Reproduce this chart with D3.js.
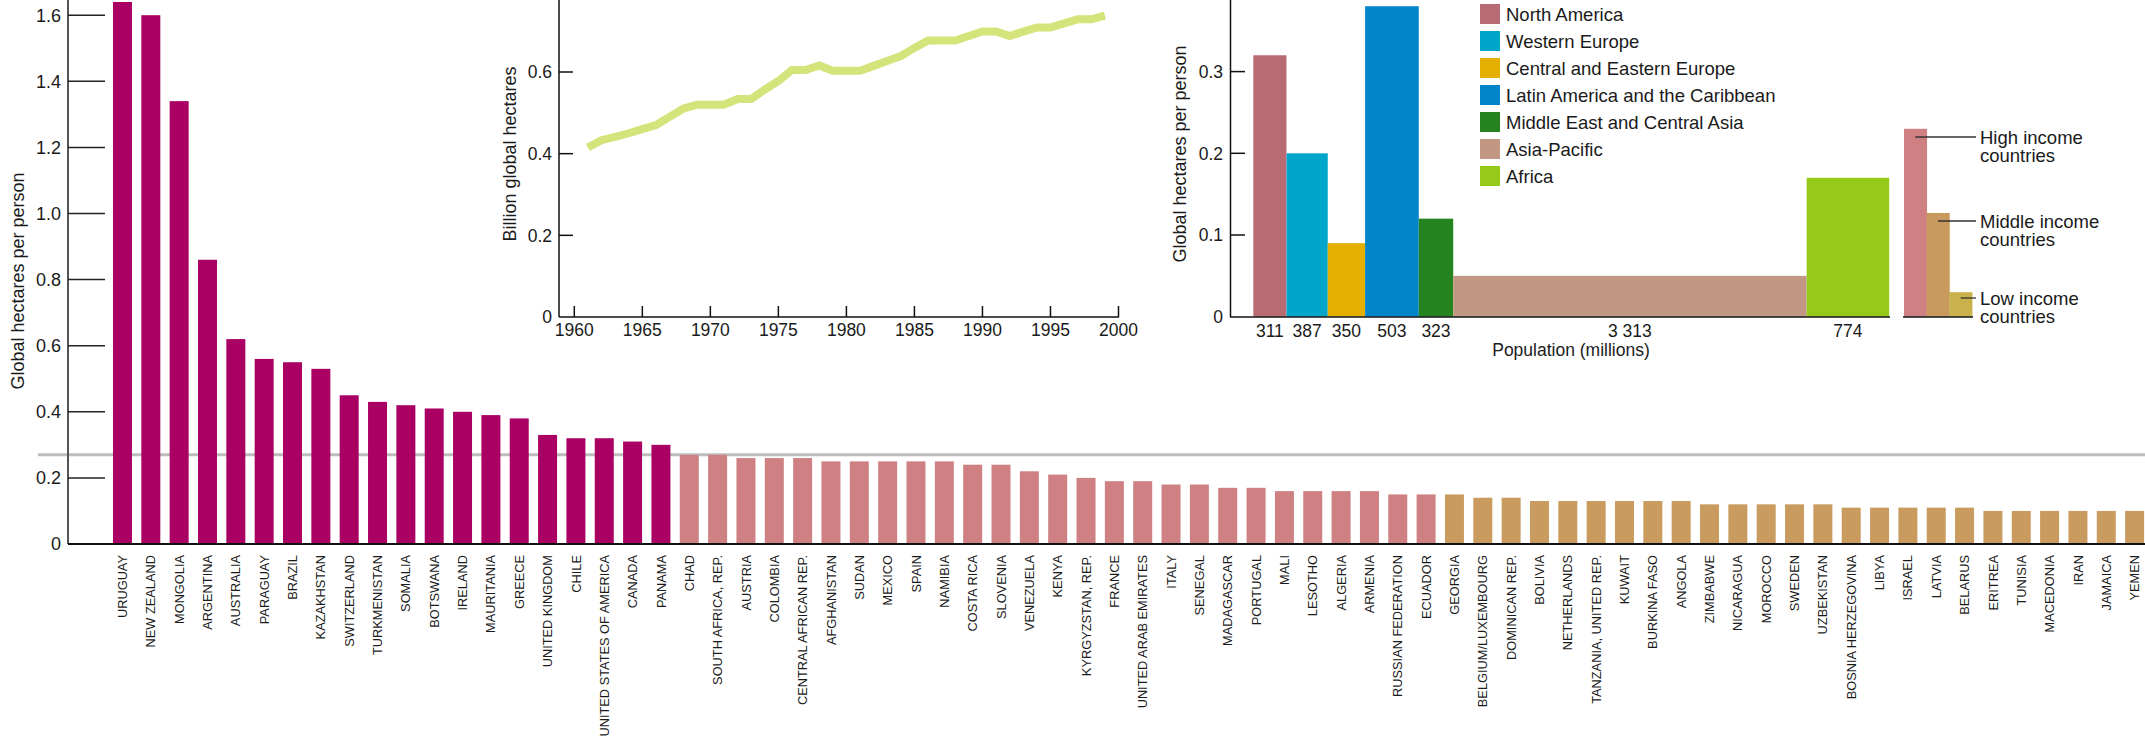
<!DOCTYPE html>
<html><head><meta charset="utf-8">
<script src="https://cdn.jsdelivr.net/npm/d3@7"></script>
<style>
body{margin:0;background:#fff;}
svg{display:block;font-family:"Liberation Sans",Arial,Helvetica,sans-serif;}
</style></head>
<body>
<svg id="c" width="2145" height="738"></svg>
<script>
// ---------- main chart data ----------
const countries = ["URUGUAY","NEW ZEALAND","MONGOLIA","ARGENTINA","AUSTRALIA","PARAGUAY","BRAZIL","KAZAKHSTAN","SWITZERLAND","TURKMENISTAN","SOMALIA","BOTSWANA","IRELAND","MAURITANIA","GREECE","UNITED KINGDOM","CHILE","UNITED STATES OF AMERICA","CANADA","PANAMA","CHAD","SOUTH AFRICA, REP.","AUSTRIA","COLOMBIA","CENTRAL AFRICAN REP.","AFGHANISTAN","SUDAN","MEXICO","SPAIN","NAMIBIA","COSTA RICA","SLOVENIA","VENEZUELA","KENYA","KYRGYZSTAN, REP.","FRANCE","UNITED ARAB EMIRATES","ITALY","SENEGAL","MADAGASCAR","PORTUGAL","MALI","LESOTHO","ALGERIA","ARMENIA","RUSSIAN FEDERATION","ECUADOR","GEORGIA","BELGIUM/LUXEMBOURG","DOMINICAN REP.","BOLIVIA","NETHERLANDS","TANZANIA, UNITED REP.","KUWAIT","BURKINA FASO","ANGOLA","ZIMBABWE","NICARAGUA","MOROCCO","SWEDEN","UZBEKISTAN","BOSNIA HERZEGOVINA","LIBYA","ISRAEL","LATVIA","BELARUS","ERITREA","TUNISIA","MACEDONIA","IRAN","JAMAICA","YEMEN"];
const values = [1.64,1.60,1.34,0.86,0.62,0.56,0.55,0.53,0.45,0.43,0.42,0.41,0.40,0.39,0.38,0.33,0.32,0.32,0.31,0.30,0.27,0.27,0.26,0.26,0.26,0.25,0.25,0.25,0.25,0.25,0.24,0.24,0.22,0.21,0.20,0.19,0.19,0.18,0.18,0.17,0.17,0.16,0.16,0.16,0.16,0.15,0.15,0.15,0.14,0.14,0.13,0.13,0.13,0.13,0.13,0.13,0.12,0.12,0.12,0.12,0.12,0.11,0.11,0.11,0.11,0.11,0.10,0.10,0.10,0.10,0.10,0.10];
const tiers = [1,1,1,1,1,1,1,1,1,1,1,1,1,1,1,1,1,1,1,1,2,2,2,2,2,2,2,2,2,2,2,2,2,2,2,2,2,2,2,2,2,2,2,2,2,2,2,3,3,3,3,3,3,3,3,3,3,3,3,3,3,3,3,3,3,3,3,3,3,3,3,3];
const mainTicks = [0,0.2,0.4,0.6,0.8,1.0,1.2,1.4,1.6];
const mainTickLabels = ["0","0.2","0.4","0.6","0.8","1.0","1.2","1.4","1.6"];
const referenceValue = 0.27;

// ---------- inset line chart data ----------
const years = [1961,1962,1963,1964,1965,1966,1967,1968,1969,1970,1971,1972,1973,1974,1975,1976,1977,1978,1979,1980,1981,1982,1983,1984,1985,1986,1987,1988,1989,1990,1991,1992,1993,1994,1995,1996,1997,1998,1999];
const billionGha = [0.415,0.433,0.441,0.450,0.460,0.470,0.490,0.510,0.520,0.520,0.520,0.534,0.534,0.557,0.578,0.605,0.605,0.616,0.603,0.603,0.603,0.615,0.627,0.639,0.659,0.677,0.677,0.677,0.688,0.699,0.699,0.688,0.699,0.709,0.709,0.719,0.729,0.729,0.738];
const lineXTicks = [1960,1965,1970,1975,1980,1985,1990,1995,2000];
const lineYTicks = [0,0.2,0.4,0.6];
const lineYTickLabels = ["0","0.2","0.4","0.6"];

// ---------- inset region chart data ----------
const regions = ["North America","Western Europe","Central and Eastern Europe","Latin America and the Caribbean","Middle East and Central Asia","Asia-Pacific","Africa"];
const regionPop = [311,387,350,503,323,3313,774];
const regionPopLabels = ["311","387","350","503","323","3 313","774"];
const regionValues = [0.32,0.20,0.09,0.38,0.12,0.05,0.17];
const regionColors = ["#B96B73","#00A6CA","#E4AF00","#0085C9","#268420","#C29884","#96CA1A"];
const regionYTicks = [0,0.1,0.2,0.3];
const regionYTickLabels = ["0","0.1","0.2","0.3"];

const incomeGroups = ["High income","Middle income","Low income"];
const incomeValues = [0.23,0.127,0.03];
const incomeColors = ["#CF8083","#C89A5E","#C9B24C"];

const tierColors = {1:"#AB0063",2:"#CE8083",3:"#C99B5E"};

const svg = d3.select("#c");
const txt = "#1a1a1a";

// ================= MAIN CHART =================
const x = d3.scaleBand().domain(countries).range([108.3, 108.3 + 72*28.34]).paddingInner(0.33).paddingOuter(0.165);
const y = d3.scaleLinear().domain([0,1.6]).range([544, 15.2]);

// reference line (behind bars)
svg.append("line").attr("x1",38).attr("x2",2145)
  .attr("y1",y(referenceValue)).attr("y2",y(referenceValue))
  .attr("stroke","#bdbdbd").attr("stroke-width",3);

svg.append("g").selectAll("rect").data(countries).join("rect")
  .attr("x",d=>x(d)).attr("width",x.bandwidth())
  .attr("y",(d,i)=>y(values[i])).attr("height",(d,i)=>y(0)-y(values[i]))
  .attr("fill",(d,i)=>tierColors[tiers[i]]);

// y axis
const yAxis = svg.append("g");
yAxis.append("line").attr("x1",68).attr("x2",68).attr("y1",0).attr("y2",544).attr("stroke","#555").attr("stroke-width",2);
yAxis.selectAll("line.t").data(mainTicks).join("line").attr("class","t")
  .attr("x1",68).attr("x2",105).attr("y1",d=>y(d)).attr("y2",d=>y(d))
  .attr("stroke","#222").attr("stroke-width",1.5);
yAxis.selectAll("text").data(mainTicks).join("text")
  .attr("x",61).attr("y",d=>y(d)).attr("dy","0.36em").attr("text-anchor","end")
  .attr("font-size",18).attr("fill",txt).text((d,i)=>mainTickLabels[i]);
svg.append("text").attr("transform","translate(24,281) rotate(-90)")
  .attr("text-anchor","middle").attr("font-size",18).attr("fill",txt)
  .text("Global hectares per person");

// baseline
svg.append("line").attr("x1",68).attr("x2",2145).attr("y1",544).attr("y2",544).attr("stroke","#111").attr("stroke-width",2);

// x labels
svg.append("g").selectAll("text").data(countries).join("text")
  .attr("transform",d=>`translate(${x(d)+x.bandwidth()/2},555) rotate(-90)`)
  .attr("dy","0.36em").attr("text-anchor","end")
  .attr("font-size",12.8).attr("fill",txt).text(d=>d);

// ================= INSET LINE CHART =================
const lx = d3.scaleLinear().domain([1960,2000]).range([574.3,1118.5]);
const ly = d3.scaleLinear().domain([0,0.6]).range([317,72]);
const lg = svg.append("g");
lg.append("line").attr("x1",559).attr("x2",559).attr("y1",0).attr("y2",317).attr("stroke","#111").attr("stroke-width",1.5);
lg.append("line").attr("x1",559).attr("x2",1119).attr("y1",317).attr("y2",317).attr("stroke","#111").attr("stroke-width",1.5);
lg.selectAll("line.xt").data(lineXTicks).join("line").attr("class","xt")
  .attr("x1",d=>lx(d)).attr("x2",d=>lx(d)).attr("y1",306).attr("y2",317).attr("stroke","#111").attr("stroke-width",1.5);
lg.selectAll("text.xt").data(lineXTicks).join("text").attr("class","xt")
  .attr("x",d=>lx(d)).attr("y",336).attr("text-anchor","middle").attr("font-size",17.5).attr("fill",txt).text(d=>d);
lg.selectAll("line.yt").data(lineYTicks.slice(1)).join("line").attr("class","yt")
  .attr("x1",559).attr("x2",573).attr("y1",d=>ly(d)).attr("y2",d=>ly(d)).attr("stroke","#111").attr("stroke-width",1.5);
lg.selectAll("text.yt").data(lineYTicks).join("text").attr("class","yt")
  .attr("x",552).attr("y",d=>ly(d)).attr("dy","0.36em").attr("text-anchor","end").attr("font-size",17.5).attr("fill",txt)
  .text((d,i)=>lineYTickLabels[i]);
lg.append("text").attr("transform","translate(516,154) rotate(-90)").attr("text-anchor","middle")
  .attr("font-size",18).attr("fill",txt).text("Billion global hectares");
lg.append("path").datum(years)
  .attr("d",d3.line().x(d=>lx(d)).y((d,i)=>ly(billionGha[i])))
  .attr("fill","none").attr("stroke","#D4E37A").attr("stroke-width",8).attr("stroke-linejoin","miter");

// ================= INSET REGION CHART =================
const cum = [];
regionPop.reduce((a,p)=>{cum.push(a);return a+p;},0);
const totalPop = d3.sum(regionPop);
const rx = d3.scaleLinear().domain([0,totalPop]).range([1253.3,1889.2]);
const ry = d3.scaleLinear().domain([0,0.3]).range([316.7,71.6]);
const rg = svg.append("g");
rg.selectAll("rect").data(regions).join("rect")
  .attr("x",(d,i)=>rx(cum[i])).attr("width",(d,i)=>rx(cum[i]+regionPop[i])-rx(cum[i]))
  .attr("y",(d,i)=>ry(regionValues[i])).attr("height",(d,i)=>ry(0)-ry(regionValues[i]))
  .attr("fill",(d,i)=>regionColors[i]);
rg.append("line").attr("x1",1230.5).attr("x2",1230.5).attr("y1",0).attr("y2",317).attr("stroke","#111").attr("stroke-width",1.5);
rg.append("line").attr("x1",1230).attr("x2",1890).attr("y1",317).attr("y2",317).attr("stroke","#111").attr("stroke-width",1.5);
rg.selectAll("line.yt").data(regionYTicks.slice(1)).join("line").attr("class","yt")
  .attr("x1",1230).attr("x2",1245).attr("y1",d=>ry(d)).attr("y2",d=>ry(d)).attr("stroke","#111").attr("stroke-width",1.5);
rg.selectAll("text.yt").data(regionYTicks).join("text").attr("class","yt")
  .attr("x",1223).attr("y",d=>ry(d)).attr("dy","0.36em").attr("text-anchor","end").attr("font-size",17.5).attr("fill",txt)
  .text((d,i)=>regionYTickLabels[i]);
rg.selectAll("text.pop").data(regions).join("text").attr("class","pop")
  .attr("x",(d,i)=>rx(cum[i]+regionPop[i]/2)).attr("y",337).attr("text-anchor","middle")
  .attr("font-size",17.5).attr("fill",txt).text((d,i)=>regionPopLabels[i]);
rg.append("text").attr("x",1571).attr("y",356).attr("text-anchor","middle").attr("font-size",17.5).attr("fill",txt).text("Population (millions)");
rg.append("text").attr("transform","translate(1186,154) rotate(-90)").attr("text-anchor","middle")
  .attr("font-size",18).attr("fill",txt).text("Global hectares per person");

// legend
const leg = rg.append("g");
leg.selectAll("rect").data(regions).join("rect")
  .attr("x",1480).attr("y",(d,i)=>4+i*27).attr("width",20).attr("height",20).attr("fill",(d,i)=>regionColors[i]);
leg.selectAll("text").data(regions).join("text")
  .attr("x",1506).attr("y",(d,i)=>14+i*27).attr("dy","0.36em").attr("font-size",18.5).attr("fill",txt).text(d=>d);

// income bars
const ix = d3.scaleBand().domain(incomeGroups).range([1904,1972]);
const ig = svg.append("g");
ig.selectAll("rect").data(incomeGroups).join("rect")
  .attr("x",d=>ix(d)).attr("width",ix.bandwidth()+0.4)
  .attr("y",(d,i)=>ry(incomeValues[i])).attr("height",(d,i)=>ry(0)-ry(incomeValues[i]))
  .attr("fill",(d,i)=>incomeColors[i]);
ig.append("line").attr("x1",1903).attr("x2",1973).attr("y1",317).attr("y2",317).attr("stroke","#111").attr("stroke-width",1.5);
const leaderY = [137,221,298];
ig.selectAll("line.ld").data(incomeGroups).join("line").attr("class","ld")
  .attr("x1",d=>ix(d)+ix.bandwidth()/2).attr("x2",1976)
  .attr("y1",(d,i)=>leaderY[i]).attr("y2",(d,i)=>leaderY[i]).attr("stroke","#333").attr("stroke-width",1.3);
incomeGroups.forEach((g,i)=>{
  const t = ig.append("text").attr("x",1980).attr("y",leaderY[i]).attr("font-size",18.5).attr("fill",txt);
  t.append("tspan").attr("x",1980).attr("dy","0.36em").text(g);
  t.append("tspan").attr("x",1980).attr("dy","1.0em").text("countries");
});
</script>
</body></html>
